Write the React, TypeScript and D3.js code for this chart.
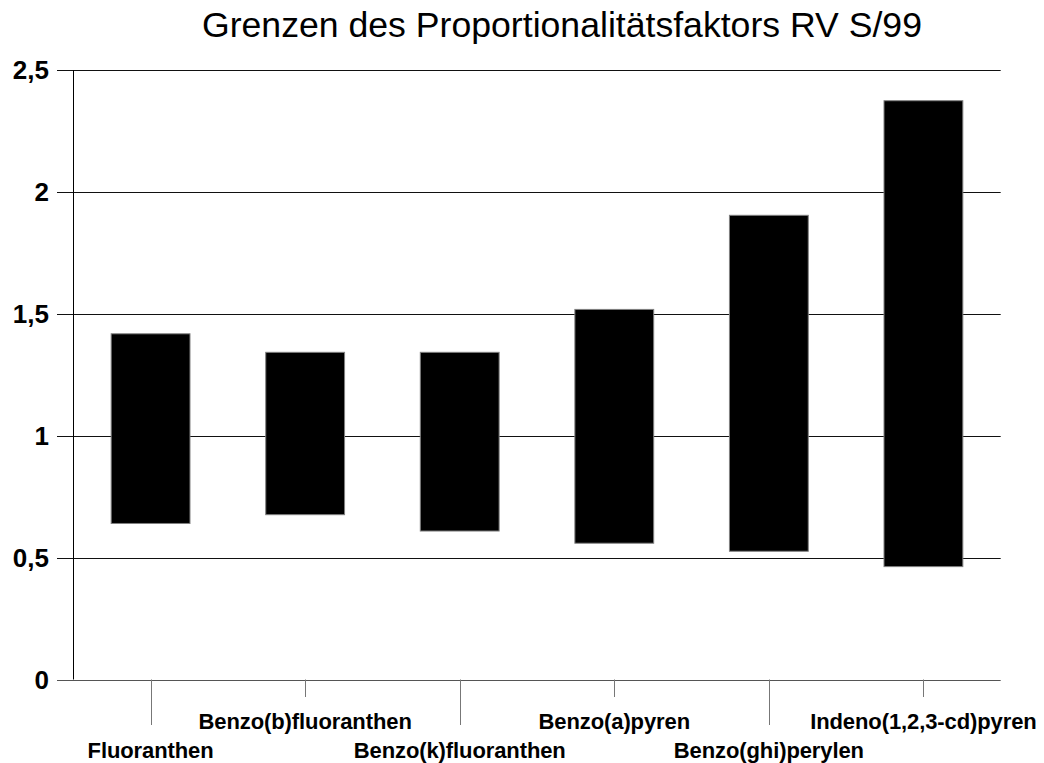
import React from "react";
import * as d3 from "d3";

const categories = [
  "Fluoranthen",
  "Benzo(b)fluoranthen",
  "Benzo(k)fluoranthen",
  "Benzo(a)pyren",
  "Benzo(ghi)perylen",
  "Indeno(1,2,3-cd)pyren",
];
const lowerLimits = [0.64, 0.676, 0.609, 0.559, 0.526, 0.463];
const upperLimits = [1.418, 1.342, 1.342, 1.518, 1.904, 2.374];
const yTicks = [0, 0.5, 1, 1.5, 2, 2.5];
const yTickLabels = ["0", "0,5", "1", "1,5", "2", "2,5"];
const title = "Grenzen des Proportionalitätsfaktors RV S/99";

const W = 1044;
const H = 763;
const left = 73.3;
const right = 1000.7;
const top = 70;
const bottom = 679.5;

export default function App() {
  const x = d3.scaleBand<string>().domain(categories).range([left, right]).padding(0);
  const y = d3.scaleLinear().domain([0, 2.5]).range([bottom, top]);
  const bw = x.bandwidth();
  const barW = bw * 0.51;
  const font = "'Liberation Sans', Arial, sans-serif";
  const snap = (v: number) => Math.round(v) + 0.5;

  return (
    <svg
      width={W}
      height={H}
      style={{ position: "absolute", left: 0, top: 0, background: "#fff" }}
    >
      <rect x={0} y={0} width={W} height={H} fill="#fff" />
      <text
        x={562}
        y={37}
        textAnchor="middle"
        fontFamily={font}
        fontSize={35}
        textLength={720}
        lengthAdjust="spacingAndGlyphs"
        fill="#000"
      >
        {title}
      </text>
      {yTicks.map((t, i) => (
        <g key={t}>
          <line
            x1={57}
            x2={right}
            y1={snap(y(t))}
            y2={snap(y(t))}
            stroke={t === 0 ? "#555" : "#111"}
            strokeWidth={1}
          />
          <text
            x={49}
            y={y(t)}
            dy="0.36em"
            textAnchor="end"
            fontFamily={font}
            fontSize={26}
            fontWeight="bold"
            fill="#000"
          >
            {yTickLabels[i]}
          </text>
        </g>
      ))}
      <line x1={snap(left)} x2={snap(left)} y1={top} y2={bottom} stroke="#000" strokeWidth={1} />
      {categories.map((c, i) => {
        const cx = (x(c) as number) + bw / 2;
        return (
          <g key={c}>
            <rect
              x={cx - barW / 2}
              y={y(upperLimits[i])}
              width={barW}
              height={y(lowerLimits[i]) - y(upperLimits[i])}
              fill="#000"
              stroke="#808080"
              strokeWidth={1}
            />
            <line
              x1={snap(cx)}
              x2={snap(cx)}
              y1={bottom}
              y2={i % 2 === 0 ? 725 : 697}
              stroke="#777"
              strokeWidth={1}
            />
            <text
              x={cx}
              y={i % 2 === 0 ? 758 : 729}
              textAnchor="middle"
              fontFamily={font}
              fontSize={22}
              fontWeight="bold"
              letterSpacing={-0.1}
              fill="#000"
            >
              {c}
            </text>
          </g>
        );
      })}
    </svg>
  );
}
